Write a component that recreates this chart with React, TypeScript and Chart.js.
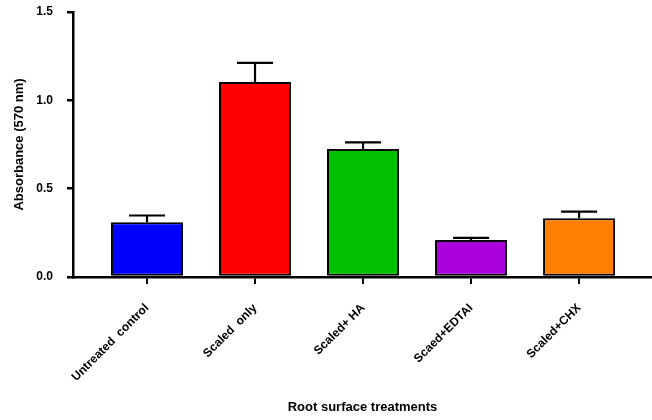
import React, { useEffect, useRef } from "react";
import { Chart, registerables } from "chart.js";

Chart.register(...registerables);

const categories = ["Untreated  control", "Scaled  only", "Scaled+ HA", "Scaed+EDTAI", "Scaled+CHX"];
const means = [0.31, 1.104, 0.724, 0.21, 0.333];
const sems = [0.038, 0.108, 0.038, 0.011, 0.037];
const barColors = ["#0000FF", "#FF0000", "#00C000", "#AA00DD", "#FF8000"];
const yTicks = [0, 0.5, 1.0, 1.5];

const FONT = "'Liberation Sans', Arial, Helvetica, sans-serif";

const errorBarPlugin = {
  id: "errorBars",
  afterDatasetsDraw(chart: any) {
    const meta = chart.getDatasetMeta(0);
    const yScale = chart.scales.y;
    const ctx = chart.ctx;
    ctx.save();
    ctx.strokeStyle = "#000";
    ctx.lineWidth = 2.2;
    meta.data.forEach((bar: any, i: number) => {
      const x = bar.x;
      const yTop = yScale.getPixelForValue(means[i] + sems[i]);
      const yBar = yScale.getPixelForValue(means[i]);
      const capHalf = bar.width / 4;
      ctx.beginPath();
      ctx.moveTo(x, yBar);
      ctx.lineTo(x, yTop);
      ctx.moveTo(x - capHalf, yTop);
      ctx.lineTo(x + capHalf, yTop);
      ctx.stroke();
    });
    ctx.restore();
  },
};

export default function App() {
  const ref = useRef<HTMLCanvasElement | null>(null);
  useEffect(() => {
    document.body.style.margin = "0";
    if (!ref.current) return;
    const chart = new Chart(ref.current, {
      type: "bar",
      data: {
        datasets: [
          {
            data: means.map((v, i) => ({ x: i, y: v })),
            backgroundColor: barColors,
            borderColor: "#000",
            borderWidth: 2,
            borderSkipped: false,
            barPercentage: 1,
            categoryPercentage: 0.667,
          },
        ],
      },
      options: {
        animation: false,
        responsive: false,
        maintainAspectRatio: false,
        layout: { padding: { top: 12, right: 0, left: 0, bottom: 0 } },
        plugins: { legend: { display: false }, tooltip: { enabled: false } },
        scales: {
          x: {
            type: "linear",
            offset: false,
            min: -0.685,
            max: 4.675,
            afterBuildTicks: (scale: any) => {
              scale.ticks = categories.map((_, i) => ({ value: i }));
            },
            afterFit: (scale: any) => {
              scale.height = 143;
              scale.paddingLeft = 0;
              scale.paddingRight = 0;
            },
            ticks: {
              autoSkip: false,
              minRotation: 45,
              maxRotation: 45,
              padding: 17,
              color: "#000",
              font: { family: FONT, size: 12, weight: "bold" },
              callback: (v: any) => categories[Math.round(Number(v))] ?? "",
            },
            grid: {
              offset: false,
              drawOnChartArea: false,
              drawTicks: true,
              tickLength: 7,
              color: "#000",
              lineWidth: 2,
            },
            border: { display: true, color: "#000", width: 2.5 },
            title: {
              display: true,
              text: "Root surface treatments",
              color: "#000",
              font: { family: FONT, size: 13, weight: "bold" },
              padding: { top: 0, bottom: 5 },
            },
          },
          y: {
            min: 0,
            max: 1.5,
            afterBuildTicks: (scale: any) => {
              scale.ticks = yTicks.map((v) => ({ value: v }));
            },
            afterFit: (scale: any) => {
              scale.width = 73;
              scale.paddingTop = 0;
              scale.paddingBottom = 0;
            },
            ticks: {
              padding: 14,
              color: "#000",
              font: { family: FONT, size: 12, weight: "bold" },
              callback: (v: any) => Number(v).toFixed(1),
            },
            grid: {
              drawOnChartArea: false,
              drawTicks: true,
              tickLength: 6,
              color: "#000",
              lineWidth: 2.5,
            },
            border: { display: true, color: "#000", width: 2.5 },
            title: {
              display: true,
              text: "Absorbance (570 nm)",
              color: "#000",
              font: { family: FONT, size: 13, weight: "bold" },
              padding: { top: 12, bottom: 0 },
            },
          },
        },
      },
      plugins: [errorBarPlugin],
    } as any);
    return () => chart.destroy();
  }, []);
  return (
    <div style={{ width: 652, height: 420 }}>
      <canvas ref={ref} width={652} height={420} style={{ width: 652, height: 420, display: "block" }} />
    </div>
  );
}
